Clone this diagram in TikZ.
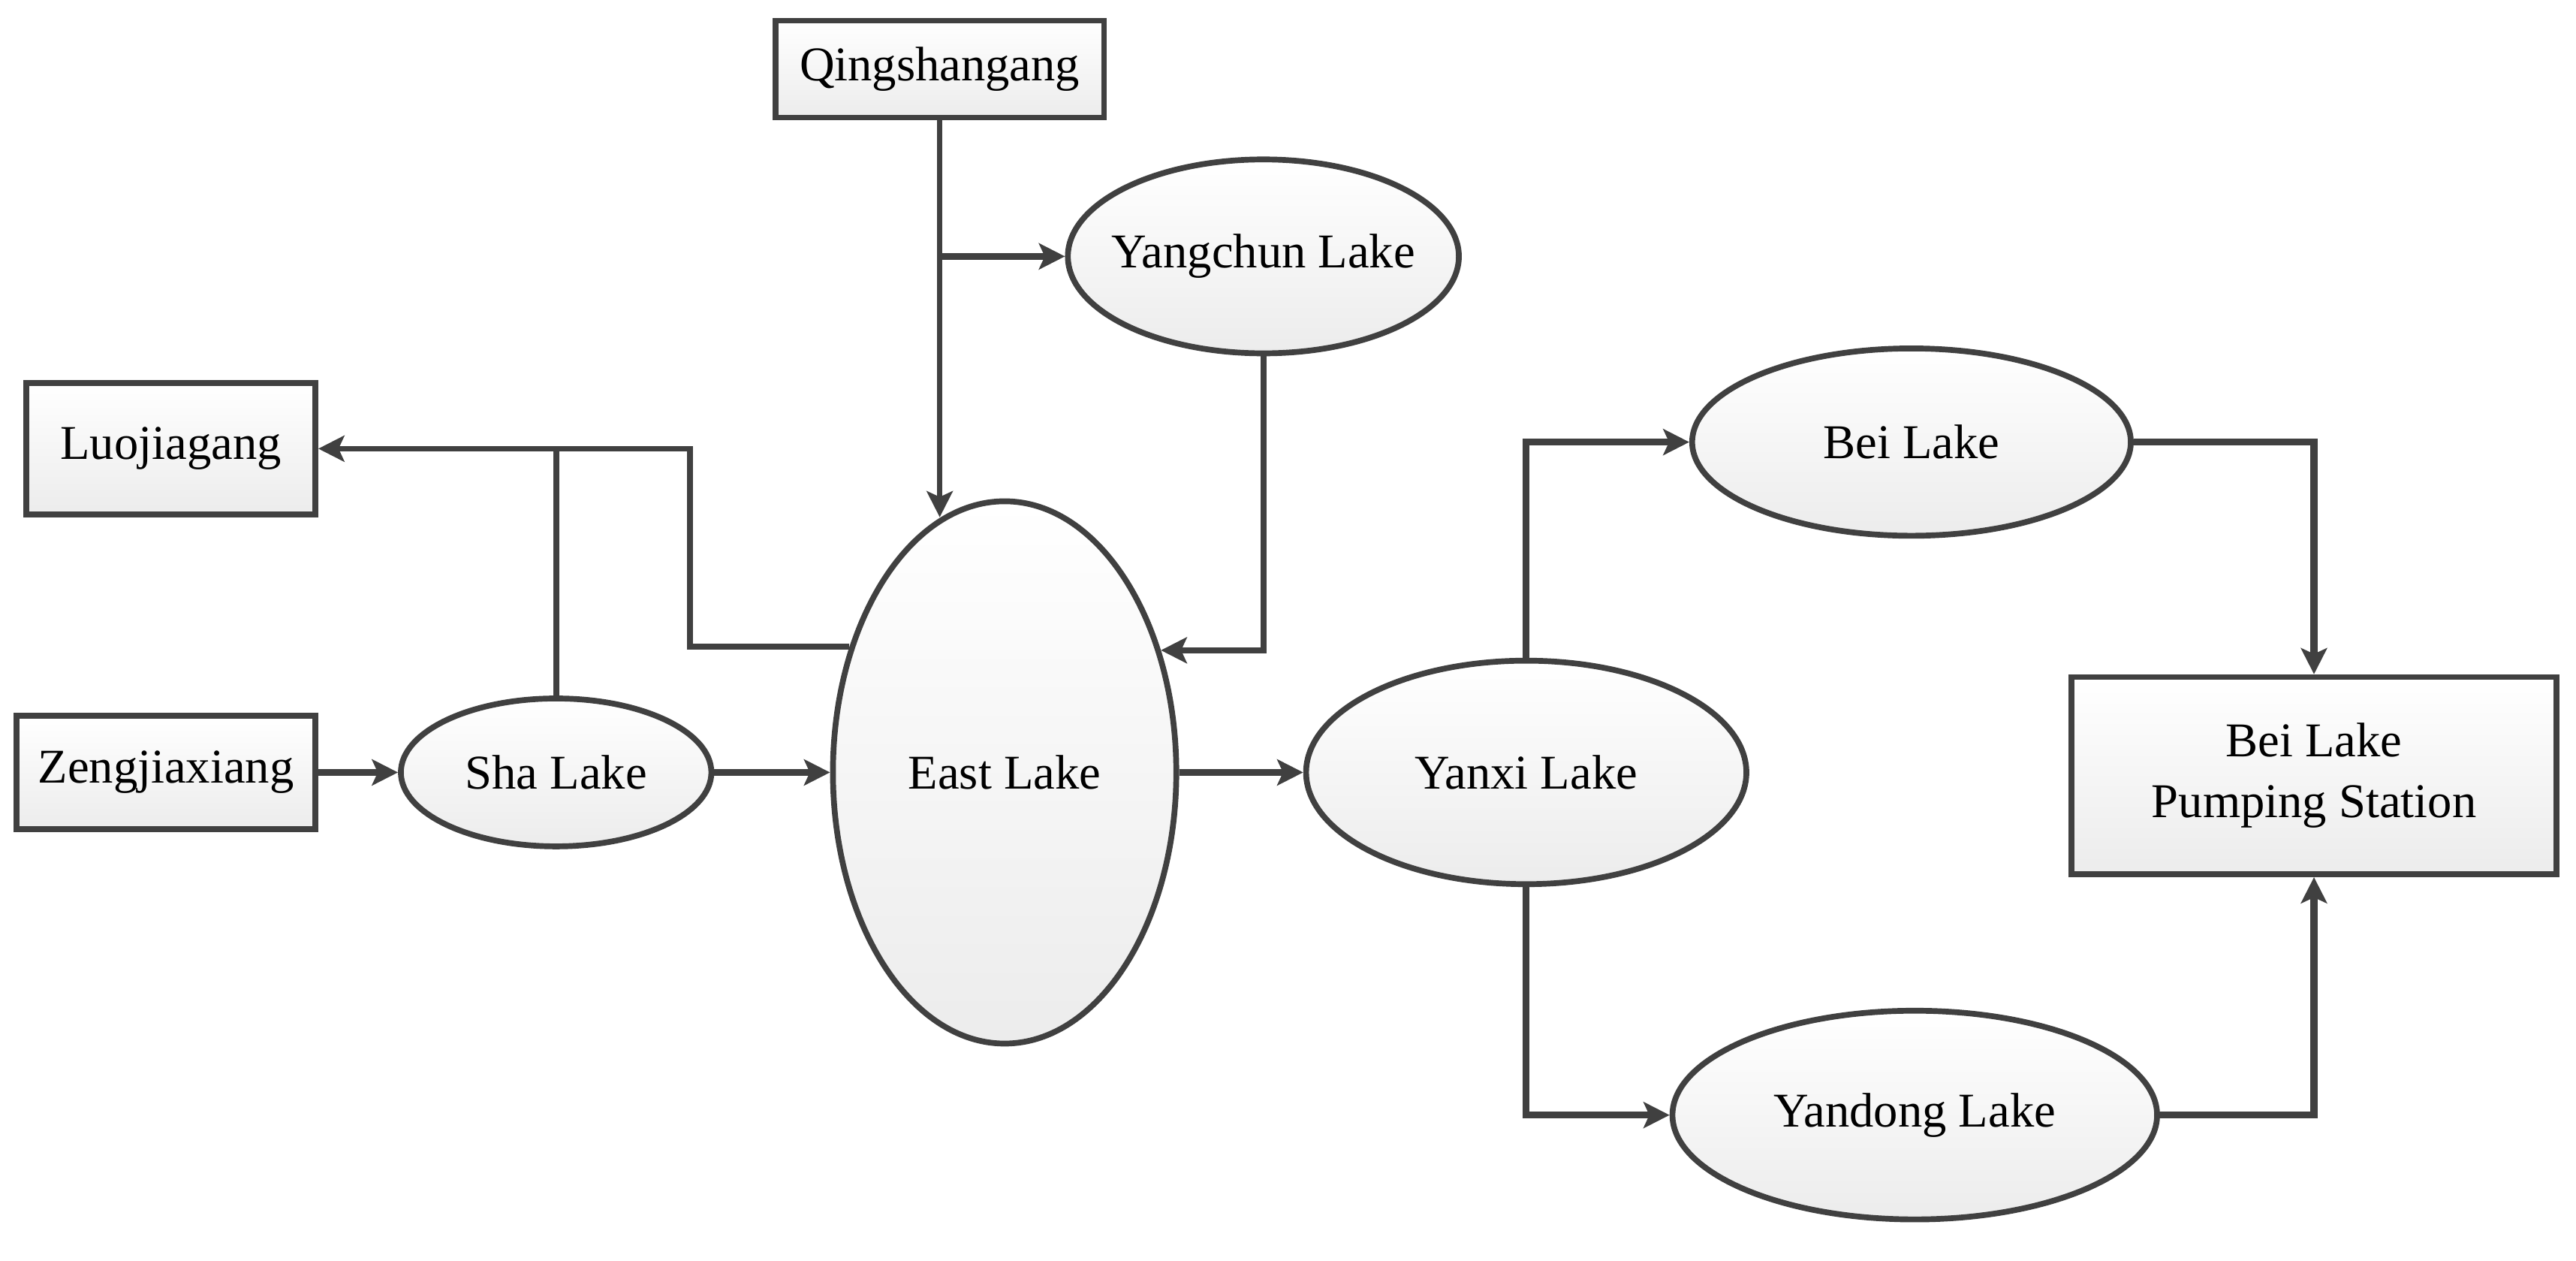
\documentclass[tikz,border=0pt]{standalone}
\usepackage{fontspec}
\setmainfont{Liberation Serif}
\usetikzlibrary{shapes.geometric,arrows.meta}
\definecolor{edgegray}{RGB}{64,64,64}
\definecolor{shadegray}{RGB}{236,236,236}

\begin{document}
\begin{tikzpicture}
\tikzstyle{every node}+=[inner sep=0pt, font=\fontsize{8.4}{10.5}\selectfont]
\tikzstyle{lake}=[ellipse, draw=edgegray, line width=1pt, top color=white, bottom color=shadegray]
\tikzstyle{place}=[rectangle, draw=edgegray, line width=1pt, top color=white, bottom color=shadegray, align=center]
\tikzstyle{flow}=[draw=edgegray, line width=1.2pt, -{Stealth[length=4.5pt,width=4.5pt,inset=1pt]}]
\tikzstyle{pipe}=[draw=edgegray, line width=1pt]
\useasboundingbox (0,0) rectangle (15.68,-7.67);
\node [place, minimum width=2cm, minimum height=0.59cm] (qing) at (5.72,-0.42) {Qingshangang};
\node [lake, minimum width=2.38cm, minimum height=1.18cm] (yang) at (7.69,-1.56) {\makebox[0pt]{Yangchun Lake}};
\node [place, minimum width=1.76cm, minimum height=0.8cm] (luo) at (1.04,-2.73) {Luojiagang};
\node [place, minimum width=1.82cm, minimum height=0.69cm] (zeng) at (1.01,-4.7) {Zengjiaxiang};
\node [lake, minimum width=1.89cm, minimum height=0.9cm] (sha) at (3.385,-4.7) {Sha Lake};
\node [lake, minimum width=2.09cm, minimum height=3.3cm] (east) at (6.115,-4.7) {East Lake};
\node [lake, minimum width=2.68cm, minimum height=1.36cm] (yanxi) at (9.29,-4.7) {Yanxi Lake};
\node [lake, minimum width=2.67cm, minimum height=1.14cm] (bei) at (11.635,-2.69) {Bei Lake};
\node [lake, minimum width=2.95cm, minimum height=1.27cm] (yandong) at (11.655,-6.785) {\makebox[0pt]{Yandong Lake}};
\node [place, minimum width=2.95cm, minimum height=1.2cm] (pump) at (14.085,-4.72) {Bei Lake\\Pumping Station};
\coordinate (split) at (4.2,-2.73);
\draw [flow, line width=1pt] (qing.south) -- (qing.south |- east.104.5);
\draw [flow] (qing.south |- yang.west) -- (yang.west);
\draw [flow, line width=1pt] (yang.south) |- (east.38.5);
\draw [flow, line width=1pt] (east.141.5) -| (split) -- (luo.east);
\draw [pipe] (sha.north) -- (sha.north |- split);
\draw [flow] (zeng.east) -- (sha.west);
\draw [flow] (sha.east) -- (east.west);
\draw [flow] (east.east) -- (yanxi.west);
\draw [flow] (yanxi.north) |- (bei.west);
\draw [flow] (yanxi.south) |- (yandong.west);
\draw [flow] (bei.east) -| (pump.north);
\draw [flow] (yandong.east) -| (pump.south);
\end{tikzpicture}
\end{document}
